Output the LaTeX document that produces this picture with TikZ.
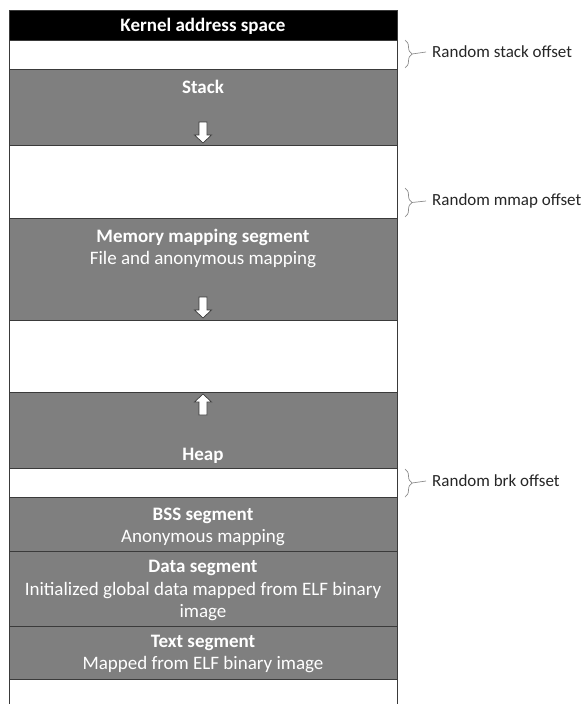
\documentclass[tikz,border=0pt]{standalone}
\usepackage{fontspec}
\setmainfont{Carlito}
\usetikzlibrary{decorations.pathreplacing}
\definecolor{segfill}{HTML}{7F7F7F}
\definecolor{segedge}{HTML}{3A3A3A}
\definecolor{bracegray}{HTML}{8C8C8C}
\definecolor{labelgray}{HTML}{262626}
\tikzset{
  band/.style={draw=segedge, line width=0.8pt, minimum width=388pt, inner sep=0pt, anchor=north west},
  seg/.style={band, fill=segfill},
  gap/.style={band, fill=white},
  title/.style={text=white, font=\fontsize{19}{22}\selectfont\bfseries, inner sep=0pt},
  sub/.style={text=white, font=\fontsize{19}{22}\selectfont, inner sep=0pt, align=center},
  offlabel/.style={text=labelgray, font=\fontsize{17}{20}\selectfont, inner sep=0pt, anchor=west},
  offbrace/.style={draw=bracegray, line width=0.7pt, decorate, decoration={brace, amplitude=7pt}},
  tick/.style={draw=bracegray, line width=0.7pt},
  downarr/.pic={\draw[fill=white, draw=segedge, line width=0.7pt]
    (-4,0) -- (4,0) -- (4,13) -- (8.5,13) -- (0,21) -- (-8.5,13) -- (-4,13) -- cycle;},
  uparr/.pic={\draw[fill=white, draw=segedge, line width=0.7pt]
    (-4,0) -- (4,0) -- (4,-13) -- (8.5,-13) -- (0,-21) -- (-8.5,-13) -- (-4,-13) -- cycle;}
}
\begin{document}
\begin{tikzpicture}[x=1pt, y=-1pt]
\useasboundingbox (0,0) rectangle (582,704);
% memory layout column, top to bottom
\node[band, fill=black, minimum height=30pt] (kernel) at (9,10) {};
\node[gap, minimum height=29pt] (gapstack) at (9,40) {};
\node[seg, minimum height=76pt] (stack) at (9,69) {};
\node[gap, minimum height=73pt] (gapmmap) at (9,145) {};
\node[seg, minimum height=102pt] (mmap) at (9,218) {};
\node[gap, minimum height=72pt] (free) at (9,320) {};
\node[seg, minimum height=76pt] (heap) at (9,392) {};
\node[gap, minimum height=29pt] (gapbrk) at (9,468) {};
\node[seg, minimum height=54pt] (bss) at (9,497) {};
\node[seg, minimum height=75pt] (data) at (9,551) {};
\node[seg, minimum height=53pt] (textseg) at (9,626) {};
\draw[draw=segedge, line width=0.8pt] (textseg.south west) -- ++(0,26);
\draw[draw=segedge, line width=0.8pt] (textseg.south east) -- ++(0,26);

% segment titles
\node[title] (tkernel) at (203,26.5) {Kernel address space};
\node[title] (tstack) at (203,86.5) {Stack};
\node[title] (tmmap) at (203,237.5) {Memory mapping segment};
\node[sub] (smmap) at (203,259.5) {File and anonymous mapping};
\node[title] (theap) at (203,455.5) {Heap};
\node[title] (tbss) at (203,515.5) {BSS segment};
\node[sub] (sbss) at (203,537.5) {Anonymous mapping};
\node[title] (tdata) at (203,567.5) {Data segment};
\node[sub] (sdata) at (203,601.5) {Initialized global data mapped from ELF binary\\image};
\node[title] (ttext) at (203,642.5) {Text segment};
\node[sub] (stext) at (203,664.5) {Mapped from ELF binary image};

% growth directions
\pic at (203,122) {downarr};
\pic at (203,297) {downarr};
\pic at (203,415) {uparr};

% randomised offsets
\node[offlabel] (lstack) at (432,52) {Random stack offset};
\draw[offbrace] (405,40) -- (405,68);
\coordinate (bstack) at (412,54);
\draw[tick] (bstack) -- ([xshift=-6pt]lstack.west);

\node[offlabel] (lmmap) at (432,201) {Random mmap offset};
\draw[offbrace] (405,188) -- (405,217);
\coordinate (bmmap) at (412,202.5);
\draw[tick] (bmmap) -- ([xshift=-6pt]lmmap.west);

\node[offlabel] (lbrk) at (432,481) {Random brk offset};
\draw[offbrace] (405,469) -- (405,497);
\coordinate (bbrk) at (412,483);
\draw[tick] (bbrk) -- ([xshift=-6pt]lbrk.west);
\end{tikzpicture}
\end{document}
